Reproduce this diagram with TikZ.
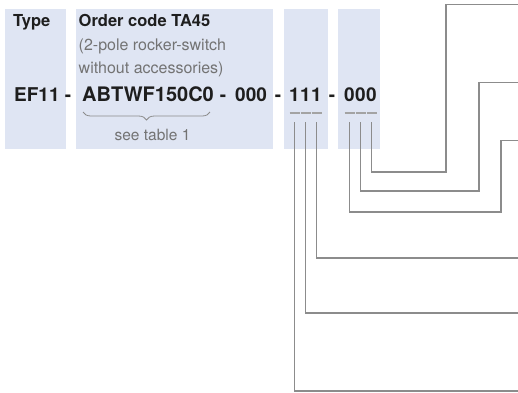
\documentclass[tikz,border=0pt]{standalone}
\usepackage{fontspec}
\setmainfont{TeX Gyre Heros}
\usepackage{tikz}
\usetikzlibrary{decorations.pathreplacing}
\definecolor{boxblue}{RGB}{223,229,243}
\definecolor{leadgray}{RGB}{140,140,140}
\definecolor{notegray}{RGB}{115,115,115}
\definecolor{codeblack}{RGB}{30,30,30}

\begin{document}
\begin{tikzpicture}[x=1pt,y=-1pt,
  head/.style={font=\fontsize{16.5}{20}\selectfont\bfseries, text=codeblack, inner sep=0pt, anchor=base west},
  note/.style={font=\fontsize{16}{20}\selectfont, text=notegray, inner sep=0pt, anchor=base west},
  code/.style={font=\fontsize{19}{22}\selectfont\bfseries, text=codeblack, inner sep=0pt, anchor=base west},
  digit/.style={code, anchor=base},
  lead/.style={draw=leadgray, line width=1.1pt},
  bar/.style={draw=leadgray!80, line width=1.1pt}]
\useasboundingbox (0,0) rectangle (518,392);

% Boxes
\fill[boxblue] (5,9) rectangle (66,148.5);
\fill[boxblue] (76,9) rectangle (273,148.5);
\fill[boxblue] (284,9) rectangle (328,148.5);
\fill[boxblue] (338,9) rectangle (380,148.5);

% Headings
\node[head] (type) at (13,26.5) {Type};
\node[head] (order) at (78.5,26.5) {Order code TA45};
\node[note] (pole) at (78.5,50.5) {(2-pole rocker-switch};
\node[note] (acc) at (78.5,73.5) {without accessories)};

% Code line
\node[code] (ef) at (14,101) {EF11};
\node[digit] (dash1) at (68,101) {-};
\node[code, font=\fontsize{20}{22}\selectfont\bfseries] (abt) at (82,101) {ABTWF150C0};
\node[digit] (dash2) at (223,101) {-};
\node[code] (mid) at (235,101) {000};
\node[digit] (dash3) at (278,101) {-};
\node[digit] (a1) at (294.5,101) {1};
\node[digit] (a2) at (305.5,101) {1};
\node[digit] (a3) at (316.5,101) {1};
\node[digit] (dash4) at (332,101) {-};
\node[digit] (b1) at (349.5,101) {0};
\node[digit] (b2) at (360.5,101) {0};
\node[digit] (b3) at (371.5,101) {0};

% Brace
\draw[leadgray, line width=0.8pt, decorate, decoration={brace, mirror, amplitude=8pt}] (83,112) -- (210,112);
\node[note, anchor=base, font=\fontsize{15.5}{18}\selectfont] (table) at (152.5,140) {see table 1};

% Bars under the digits
\foreach \d in {a1,a2,a3,b1,b2,b3}
  \draw[bar] ([xshift=-5pt,yshift=-12pt]\d.base) -- ([xshift=5pt,yshift=-12pt]\d.base);

% Right ends and bends
\coordinate (r1) at (518,4.5);
\coordinate (r2) at (518,82.5);
\coordinate (r3) at (518,140.5);
\coordinate (r4) at (518,258);
\coordinate (r5) at (518,313);
\coordinate (r6) at (518,391);
\coordinate (k1) at (446,172);
\coordinate (k2) at (479,191);
\coordinate (k3) at (501,212);

% Leads
\draw[lead] ([yshift=-21pt]b3.base) |- (k1) |- (r1);
\draw[lead] ([yshift=-21pt]b2.base) |- (k2) |- (r2);
\draw[lead] ([yshift=-21pt]b1.base) |- (k3) |- (r3);
\draw[lead] ([yshift=-21pt]a3.base) |- (r4);
\draw[lead] ([yshift=-21pt]a2.base) |- (r5);
\draw[lead] ([yshift=-21pt]a1.base) |- (r6);
\end{tikzpicture}
\end{document}
